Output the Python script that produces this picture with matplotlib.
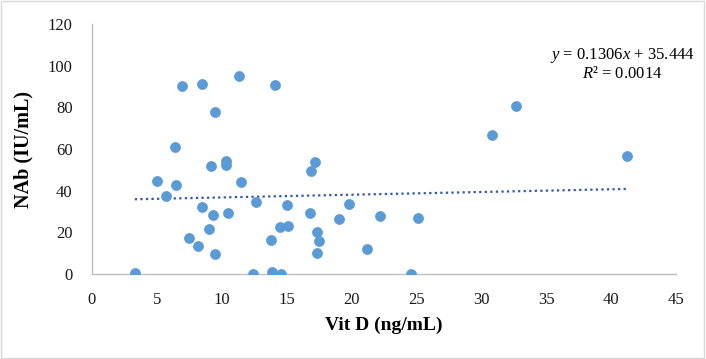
import matplotlib
matplotlib.use('Agg')
import matplotlib.pyplot as plt
from matplotlib.patches import Rectangle

# Vit D (ng/mL) and NAb (IU/mL)
vit_d = [3.3, 6.9, 8.5, 11.3, 9.5, 6.4, 9.2, 10.3, 10.3, 5.0, 6.5, 11.5,
         5.7, 12.6, 8.5, 9.3, 10.5, 9.0, 7.5, 8.2, 9.5, 12.4,
         14.1, 17.15, 16.9, 15.0, 19.8, 16.8, 19.0, 22.2, 25.1, 14.5, 15.1,
         13.8, 17.3, 17.5, 17.3, 21.2, 13.9, 14.6, 24.6,
         32.7, 30.8, 41.2]
nab = [0.3, 90.1, 91.2, 95.2, 77.6, 60.8, 51.8, 54.2, 52.3, 44.5, 42.9, 44.0,
       37.6, 34.4, 32.3, 28.5, 29.1, 21.4, 17.4, 13.6, 9.4, 0.1,
       90.6, 53.6, 49.3, 33.3, 33.7, 29.1, 26.6, 28.0, 27.0, 22.7, 23.0,
       16.3, 20.3, 15.8, 9.9, 12.0, 0.8, 0.1, 0.1,
       80.6, 66.9, 56.5]

slope = 0.1306
intercept = 35.444
r2 = 0.0014
x_ticks = [0, 5, 10, 15, 20, 25, 30, 35, 40, 45]
y_ticks = [0, 20, 40, 60, 80, 100, 120]

plt.rcParams['font.family'] = ['Liberation Serif', 'DejaVu Serif']
plt.rcParams['mathtext.fontset'] = 'custom'
plt.rcParams['mathtext.rm'] = 'Liberation Serif'
plt.rcParams['mathtext.it'] = 'Liberation Serif:italic'

fig = plt.figure(figsize=(7.06, 3.59), dpi=100)
ax = fig.add_axes([0.1303, 0.2368, 0.8272, 0.6963])

ax.scatter(vit_d, nab, s=52, color='#5B9BD5', edgecolors='#5B9BD5',
           linewidths=0.5, zorder=3)

# linear trend line over the data range
x0, x1 = min(vit_d), max(vit_d)
ax.plot([x0, x1], [slope * x0 + intercept, slope * x1 + intercept],
        linestyle=(0, (1, 1.5)), linewidth=1.6, color='#2E54B8', zorder=2)

ax.set_xlim(0, 45)
ax.set_ylim(0, 120)
ax.set_xticks(x_ticks)
ax.set_yticks(y_ticks)
ax.tick_params(length=0, labelsize=12, colors='#1a1a1a')
ax.tick_params(axis='x', pad=13)
ax.tick_params(axis='y', pad=14)
for side in ['top', 'right']:
    ax.spines[side].set_visible(False)
for side in ['left', 'bottom']:
    ax.spines[side].set_color('#BFBFBF')
    ax.spines[side].set_linewidth(1)

ax.set_xlabel('Vit D (ng/mL)', fontsize=14, fontweight='bold', labelpad=6)
ax.set_ylabel('NAb (IU/mL)', fontsize=14.5, fontweight='bold', labelpad=10)

fig.text(622 / 706, 1 - 64 / 359,
         f'$y$ = {slope}$x$ + {intercept}\n$R²$ = {r2}',
         ha='center', va='center', multialignment='center', fontsize=12,
         linespacing=1.15)

# light border around the whole chart
fig.patches.append(Rectangle((0.002, 0.003), 0.995, 0.993, transform=fig.transFigure,
                             fill=False, edgecolor='#D9D9D9', linewidth=1))

fig.savefig('out.png', dpi=100)
